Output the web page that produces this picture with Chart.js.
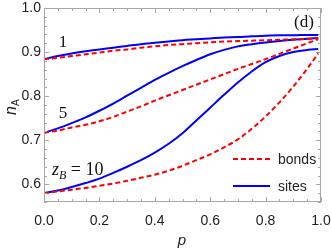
<!DOCTYPE html>
<html><head><meta charset="utf-8">
<script src="https://cdn.jsdelivr.net/npm/chart.js@4/dist/chart.umd.min.js"></script>
<style>html,body{margin:0;padding:0;background:#fff}canvas{display:block}</style>
</head><body>
<canvas id="c" width="332" height="249"></canvas>
<script>
// ---- data ----
const p = [0,0.05,0.1,0.15,0.2,0.25,0.3,0.35,0.4,0.45,0.5,0.55,0.6,0.65,0.7,0.75,0.8,0.85,0.9,0.95,0.99];
const sites1  = [0.884,0.891,0.897,0.902,0.906,0.910,0.914,0.918,0.921,0.924,0.927,0.929,0.931,0.933,0.934,0.936,0.937,0.938,0.938,0.939,0.939];
const bonds1  = [0.884,0.887,0.891,0.895,0.899,0.903,0.906,0.910,0.913,0.916,0.918,0.920,0.922,0.924,0.925,0.926,0.927,0.928,0.929,0.930,0.931];
const sites5  = [0.717,0.727,0.739,0.752,0.767,0.783,0.801,0.819,0.837,0.853,0.868,0.882,0.895,0.905,0.913,0.918,0.922,0.925,0.928,0.930,0.932];
const bonds5  = [0.717,0.722,0.729,0.735,0.743,0.753,0.765,0.777,0.790,0.802,0.814,0.826,0.838,0.850,0.862,0.873,0.884,0.896,0.908,0.920,0.929];
const sites10 = [0.580,0.586,0.594,0.603,0.613,0.626,0.640,0.655,0.672,0.692,0.716,0.745,0.774,0.803,0.831,0.856,0.877,0.891,0.900,0.905,0.907];
const bonds10 = [0.580,0.584,0.588,0.592,0.597,0.602,0.608,0.615,0.622,0.631,0.642,0.655,0.668,0.684,0.702,0.726,0.754,0.786,0.822,0.862,0.897];
const xTicks = [0,0.2,0.4,0.6,0.8,1.0];
const yTicks = [0.6,0.7,0.8,0.9,1.0];
const legendLabels = ['bonds','sites'];

const RED = '#ff0000', BLUE = '#0000ff';
const pts = arr => arr.map((v,i)=>({x:p[i], y:v}));
const bondStyle = {borderColor:RED, borderWidth:2, borderDash:[5,3], pointRadius:0, fill:false, cubicInterpolationMode:'monotone'};
const siteStyle = {borderColor:BLUE, borderWidth:2, pointRadius:0, fill:false, cubicInterpolationMode:'monotone'};

const framePlugin = {
  id:'frame',
  afterDatasetsDraw(chart){
    const {ctx, chartArea:a, scales:{x,y}} = chart;
    ctx.save();
    ctx.strokeStyle = '#a8a8a8'; ctx.lineWidth = 1;
    ctx.strokeRect(a.left+0.5, a.top+0.5, a.right-a.left-1, a.bottom-a.top-1);
    ctx.beginPath();
    for(let i=0;i<=20;i++){
      const v=i/20, px=Math.round(x.getPixelForValue(v))+0.5, L=(i%4===0)?5:3;
      ctx.moveTo(px,a.bottom); ctx.lineTo(px,a.bottom-L);
      ctx.moveTo(px,a.top); ctx.lineTo(px,a.top+L);
    }
    for(let i=28;i<=50;i++){
      const v=i/50, py=Math.round(y.getPixelForValue(v))+0.5, L=(i%5===0)?5:3;
      ctx.moveTo(a.left,py); ctx.lineTo(a.left+L,py);
      ctx.moveTo(a.right,py); ctx.lineTo(a.right-L,py);
    }
    ctx.stroke();
    ctx.restore();
  },
  afterDraw(chart){
    const {ctx} = chart;
    ctx.save();
    ctx.fillStyle = '#111';
    ctx.font = '17px "Liberation Serif"';
    ctx.textAlign = 'center'; ctx.textBaseline = 'alphabetic';
    ctx.fillText('1', 63, 47);
    ctx.fillText('5', 63, 118);
    ctx.fillText('(d)', 304, 27);
    ctx.textAlign = 'left';
    let xx = 52;
    ctx.font = 'italic 18px "Liberation Serif"';
    ctx.fillText('z', xx, 175); xx += ctx.measureText('z').width;
    ctx.font = 'italic 12px "Liberation Serif"';
    ctx.fillText('B', xx, 179); xx += ctx.measureText('B').width;
    ctx.font = '18px "Liberation Serif"';
    ctx.fillText(' = 10', xx, 175);
    ctx.fillStyle = '#222';
    ctx.font = 'italic 15px "Liberation Sans"';
    ctx.textAlign = 'center';
    ctx.fillText('p', 182, 245);
    ctx.save();
    ctx.translate(16, 115); ctx.rotate(-Math.PI/2);
    ctx.textAlign = 'left';
    ctx.font = 'italic 16px "Liberation Sans"';
    ctx.fillText('n', 0, 0);
    const w = ctx.measureText('n').width;
    ctx.font = '10px "Liberation Sans"';
    ctx.fillText('A', w, 3);
    ctx.restore();
    const ds = chart.data.datasets;
    const items = [{label:legendLabels[0], st:ds[0]}, {label:legendLabels[1], st:ds[1]}];
    const ys = [159, 186];
    items.forEach((it,i)=>{
      ctx.save();
      ctx.strokeStyle = it.st.borderColor; ctx.lineWidth = 2;
      ctx.setLineDash(it.st.borderDash || []);
      ctx.beginPath(); ctx.moveTo(233, ys[i]); ctx.lineTo(270, ys[i]); ctx.stroke();
      ctx.restore();
      ctx.font = '14px "Liberation Sans"';
      ctx.textAlign = 'left'; ctx.fillStyle = '#222';
      ctx.fillText(it.label, 278, ys[i]+5);
    });
    ctx.restore();
  }
};

new Chart(document.getElementById('c'), {
  type:'line',
  data:{ datasets:[
    Object.assign({label:'bonds z=1', data:pts(bonds1)}, bondStyle),
    Object.assign({label:'sites z=1', data:pts(sites1)}, siteStyle),
    Object.assign({label:'bonds z=5', data:pts(bonds5)}, bondStyle),
    Object.assign({label:'sites z=5', data:pts(sites5)}, siteStyle),
    Object.assign({label:'bonds z=10', data:pts(bonds10)}, bondStyle),
    Object.assign({label:'sites z=10', data:pts(sites10)}, siteStyle)
  ]},
  options:{
    responsive:false, animation:false, devicePixelRatio:1,
    layout:{padding:{left:0,right:11,top:8,bottom:0}},
    plugins:{legend:{display:false}, tooltip:{enabled:false}},
    scales:{
      x:{type:'linear', min:0, max:1,
        grid:{display:false, drawTicks:false, tickLength:0}, border:{display:false},
        afterBuildTicks:ax=>{ax.ticks = xTicks.map(v=>({value:v}));},
        afterFit:s=>{s.height=47; s.paddingLeft=0; s.paddingRight=0;},
        ticks:{autoSkip:false, maxRotation:0, padding:11, color:'#222',
          font:{family:'Liberation Sans', size:14}, callback:v=>Number(v).toFixed(1)}},
      y:{type:'linear', min:0.56, max:1.0,
        grid:{display:false, drawTicks:false, tickLength:0}, border:{display:false},
        afterBuildTicks:ax=>{ax.ticks = yTicks.map(v=>({value:v}));},
        afterFit:s=>{s.width=44; s.paddingTop=0; s.paddingBottom=0;},
        ticks:{autoSkip:false, padding:3, color:'#222',
          font:{family:'Liberation Sans', size:14}, callback:v=>Number(v).toFixed(1)}}
    }
  },
  plugins:[framePlugin]
});
</script>
</body></html>
